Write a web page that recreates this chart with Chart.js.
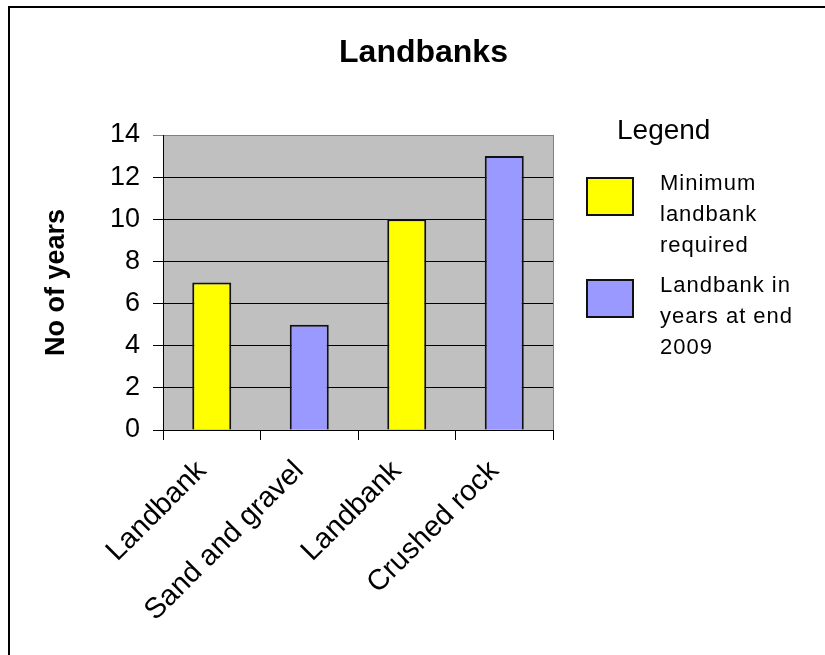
<!DOCTYPE html>
<html><head><meta charset="utf-8">
<script src="https://cdn.jsdelivr.net/npm/chart.js@4"></script>
<style>
html,body{margin:0;padding:0;background:#fff;overflow:hidden}
#wrap{position:relative;width:825px;height:655px}
#frame{position:absolute;left:8px;top:6px;width:900px;height:900px;border:2px solid #000;box-shadow:1px 1px 0 #808080;box-sizing:border-box;pointer-events:none}
canvas{position:absolute;left:0;top:0}
</style></head><body>
<div id="wrap"><canvas id="c" width="825" height="655"></canvas><div id="frame"></div></div>
<script>
const categories = ['Landbank', 'Sand and gravel', 'Landbank', 'Crushed rock'];
const minimumRequired = [7, null, 10, null];
const landbankEnd2009 = [null, 5, null, 13];
const seriesLabels = [['Minimum', 'landbank', 'required'], ['Landbank in', 'years at end', '2009']];
const seriesColors = ['#FFFF00', '#9999FF'];
const yTicks = [0, 2, 4, 6, 8, 10, 12, 14];
const chartTitle = 'Landbanks';
const yTitle = 'No of years';
const legendTitle = 'Legend';

const FAM = '"Liberation Sans", Arial, sans-serif';

const decor = {
  id: 'decor',
  beforeDraw(chart) {
    const {ctx, chartArea: a} = chart;
    ctx.save();
    ctx.fillStyle = '#C0C0C0';
    ctx.fillRect(a.left, a.top, a.right - a.left, a.bottom - a.top);
    ctx.restore();
  },
  beforeDatasetsDraw(chart) {
    const {ctx, chartArea: a} = chart;
    ctx.save();
    ctx.strokeStyle = '#808080';
    ctx.lineWidth = 1;
    ctx.beginPath();
    ctx.moveTo(Math.round(a.right) + 0.5, a.top);
    ctx.lineTo(Math.round(a.right) + 0.5, a.bottom);
    ctx.stroke();
    ctx.restore();
  },
  afterDraw(chart) {
    const {ctx} = chart;
    ctx.save();
    ctx.fillStyle = '#000';
    ctx.textBaseline = 'alphabetic';
    ctx.textAlign = 'center';
    ctx.font = 'bold 32px ' + FAM;
    ctx.fillText(chartTitle, 423.5, 62);
    ctx.textAlign = 'left';
    ctx.font = '28px ' + FAM;
    ctx.fillText(legendTitle, 617, 139);
    const boxTops = [178, 280];
    chart.data.datasets.forEach((ds, i) => {
      ctx.fillStyle = ds.backgroundColor;
      ctx.fillRect(587, boxTops[i], 46, 37);
      ctx.strokeStyle = '#111';
      ctx.lineWidth = 2;
      ctx.strokeRect(587, boxTops[i], 46, 37);
      ctx.fillStyle = '#000';
      ctx.font = '22px ' + FAM;
      try { ctx.letterSpacing = '1px'; } catch (e) {}
      seriesLabels[i].forEach((line, j) => {
        ctx.fillText(line, 660, boxTops[i] + 12 + j * 31);
      });
      try { ctx.letterSpacing = '0px'; } catch (e) {}
    });
    ctx.restore();
  }
};

new Chart(document.getElementById('c'), {
  type: 'bar',
  data: {
    labels: categories,
    datasets: [
      { label: seriesLabels[0].join(' '), data: minimumRequired, backgroundColor: seriesColors[0], borderColor: '#111', borderWidth: 2, skipNull: true },
      { label: seriesLabels[1].join(' '), data: landbankEnd2009, backgroundColor: seriesColors[1], borderColor: '#111', borderWidth: 2, skipNull: true }
    ]
  },
  options: {
    responsive: false,
    animation: false,
    events: [],
    datasets: { bar: { categoryPercentage: 1, barPercentage: 0.4 } },
    layout: { padding: { left: 0, top: 135, right: 272, bottom: 0 } },
    plugins: { legend: { display: false }, title: { display: false }, tooltip: { enabled: false } },
    scales: {
      x: {
        grid: { drawOnChartArea: false, drawTicks: true, tickLength: 10, color: '#000', offset: true },
        border: { color: '#000', width: 1 },
        ticks: { color: '#000', font: { family: FAM, size: 29 }, maxRotation: 45, minRotation: 45, autoSkip: false, padding: 14, labelOffset: -10 },
        afterFit: s => { s.height = 225; }
      },
      y: {
        min: 0, max: 14,
        afterBuildTicks: s => { s.ticks = yTicks.map(v => ({ value: v })); },
        ticks: { color: '#000', font: { family: FAM, size: 27 }, padding: 13 },
        grid: { color: c => (c.tick && c.tick.value === 14 ? '#808080' : '#000'), tickLength: 10, lineWidth: 1 },
        border: { color: '#000', width: 1 },
        title: { display: true, text: yTitle, color: '#000', font: { family: FAM, size: 27, weight: 'bold' }, padding: { top: 40, bottom: 0 } },
        afterFit: s => { s.width = 163; }
      }
    }
  },
  plugins: [decor]
});
</script>
</body></html>
